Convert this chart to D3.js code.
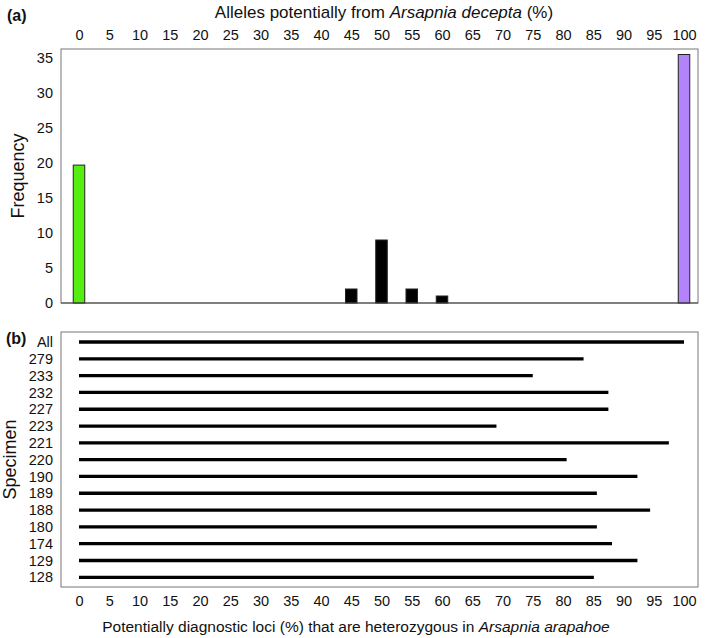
<!DOCTYPE html>
<html>
<head>
<meta charset="utf-8">
<script src="https://cdn.jsdelivr.net/npm/d3@7"></script>
<style>
  body { margin: 0; background: #fff; }
  text { font-family: "Liberation Sans", Arial, sans-serif; fill: #111; }
</style>
</head>
<body>
<div id="chart"></div>
<script>
// panel (a): frequency of loci by percent alleles from A. decepta
var alleleBins = [0, 45, 50, 55, 60, 100];
var alleleFreq = [19.7, 2, 9, 2, 1, 35.5];
var alleleColors = ["#55ee11", "#000000", "#000000", "#000000", "#000000", "#b383f9"];
var freqTicks = [0, 5, 10, 15, 20, 25, 30, 35];

// panel (b): heterozygous diagnostic loci per specimen
var specimens = ["All", "279", "233", "232", "227", "223", "221", "220", "190", "189", "188", "180", "174", "129", "128"];
var hetPercent = [100, 83.4, 75.0, 87.5, 87.5, 69.0, 97.5, 80.6, 92.3, 85.6, 94.4, 85.6, 88.1, 92.3, 85.1];

var pctTicks = d3.range(0, 101, 5);

var svgWidth = 709;
var svgHeight = 638;

var box = { left: 61, right: 698 };
var topPanel = { top: 49, bottom: 303 };
var botPanel = { top: 332, bottom: 587 };

var svg = d3.select("#chart")
  .append("svg")
  .attr("width", svgWidth)
  .attr("height", svgHeight);

var xScale = d3.scaleLinear().domain([0, 100]).range([79, 684]);

var yFreq = d3.scaleLinear().domain([0, 35]).range([topPanel.bottom, 58]);

var ySpec = d3.scalePoint().domain(specimens).range([342, 577.3]);

function styleTicks(g, size) {
  g.select(".domain").remove();
  g.selectAll("text")
    .style("font-size", size + "px")
    .style("font-family", "Liberation Sans, Arial, sans-serif")
    .attr("fill", "#111");
}

// ---- panel (a) ----
svg.append("rect")
  .attr("x", box.left)
  .attr("y", topPanel.top)
  .attr("width", box.right - box.left)
  .attr("height", topPanel.bottom - topPanel.top)
  .attr("fill", "none")
  .attr("stroke", "#777")
  .attr("stroke-width", 1);

var barWidth = 11.5;
svg.append("g")
  .selectAll("rect")
  .data(alleleBins)
  .enter()
  .append("rect")
  .attr("x", (d) => xScale(d) - barWidth / 2)
  .attr("y", (d, i) => yFreq(alleleFreq[i]))
  .attr("width", barWidth)
  .attr("height", (d, i) => yFreq(0) - yFreq(alleleFreq[i]))
  .attr("fill", (d, i) => alleleColors[i])
  .attr("stroke", "#222")
  .attr("stroke-width", 1);

// baseline
svg.append("line")
  .attr("x1", box.left)
  .attr("x2", box.right)
  .attr("y1", topPanel.bottom)
  .attr("y2", topPanel.bottom)
  .attr("stroke", "#444")
  .attr("stroke-width", 1.2);

svg.append("g")
  .attr("transform", "translate(0, 40)")
  .call(d3.axisTop(xScale).tickValues(pctTicks).tickSize(0).tickPadding(0).tickFormat(d3.format("d")))
  .call(styleTicks, 14.5);

svg.append("g")
  .attr("transform", "translate(53, 0)")
  .call(d3.axisLeft(yFreq).tickValues(freqTicks).tickSize(0).tickPadding(0))
  .call(styleTicks, 14.5);

var topTitle = svg.append("text")
  .attr("x", 384)
  .attr("y", 18)
  .style("text-anchor", "middle")
  .style("font-size", "17px");
topTitle.append("tspan").text("Alleles potentially from ");
topTitle.append("tspan").style("font-style", "italic").text("Arsapnia decepta");
topTitle.append("tspan").text(" (%)");

svg.append("text")
  .attr("transform", "rotate(-90)")
  .attr("x", -(topPanel.top + topPanel.bottom) / 2)
  .attr("y", 24)
  .style("text-anchor", "middle")
  .style("font-size", "18px")
  .text("Frequency");

svg.append("text")
  .attr("x", 7)
  .attr("y", 21)
  .style("font-size", "16px")
  .style("font-weight", "bold")
  .text("(a)");

// ---- panel (b) ----
svg.append("rect")
  .attr("x", box.left)
  .attr("y", botPanel.top)
  .attr("width", box.right - box.left)
  .attr("height", botPanel.bottom - botPanel.top)
  .attr("fill", "none")
  .attr("stroke", "#777")
  .attr("stroke-width", 1);

svg.append("g")
  .selectAll("line")
  .data(specimens)
  .enter()
  .append("line")
  .attr("x1", xScale(0))
  .attr("x2", (d, i) => xScale(hetPercent[i]))
  .attr("y1", (d) => ySpec(d))
  .attr("y2", (d) => ySpec(d))
  .attr("stroke", "#000")
  .attr("stroke-width", 3.3);

svg.append("g")
  .attr("transform", "translate(53, 0)")
  .call(d3.axisLeft(ySpec).tickSize(0).tickPadding(0))
  .call(styleTicks, 14.5);

svg.append("g")
  .attr("transform", "translate(0, 596)")
  .call(d3.axisBottom(xScale).tickValues(pctTicks).tickSize(0).tickPadding(0).tickFormat(d3.format("d")))
  .call(styleTicks, 14.5);

var botTitle = svg.append("text")
  .attr("x", 356)
  .attr("y", 632)
  .style("text-anchor", "middle")
  .style("font-size", "15.5px");
botTitle.append("tspan").text("Potentially diagnostic loci (%) that are heterozygous in ");
botTitle.append("tspan").style("font-style", "italic").text("Arsapnia arapahoe");

svg.append("text")
  .attr("transform", "rotate(-90)")
  .attr("x", -(botPanel.top + botPanel.bottom) / 2)
  .attr("y", 16)
  .style("text-anchor", "middle")
  .style("font-size", "18px")
  .text("Specimen");

svg.append("text")
  .attr("x", 6)
  .attr("y", 344)
  .style("font-size", "16px")
  .style("font-weight", "bold")
  .text("(b)");
</script>
</body>
</html>
